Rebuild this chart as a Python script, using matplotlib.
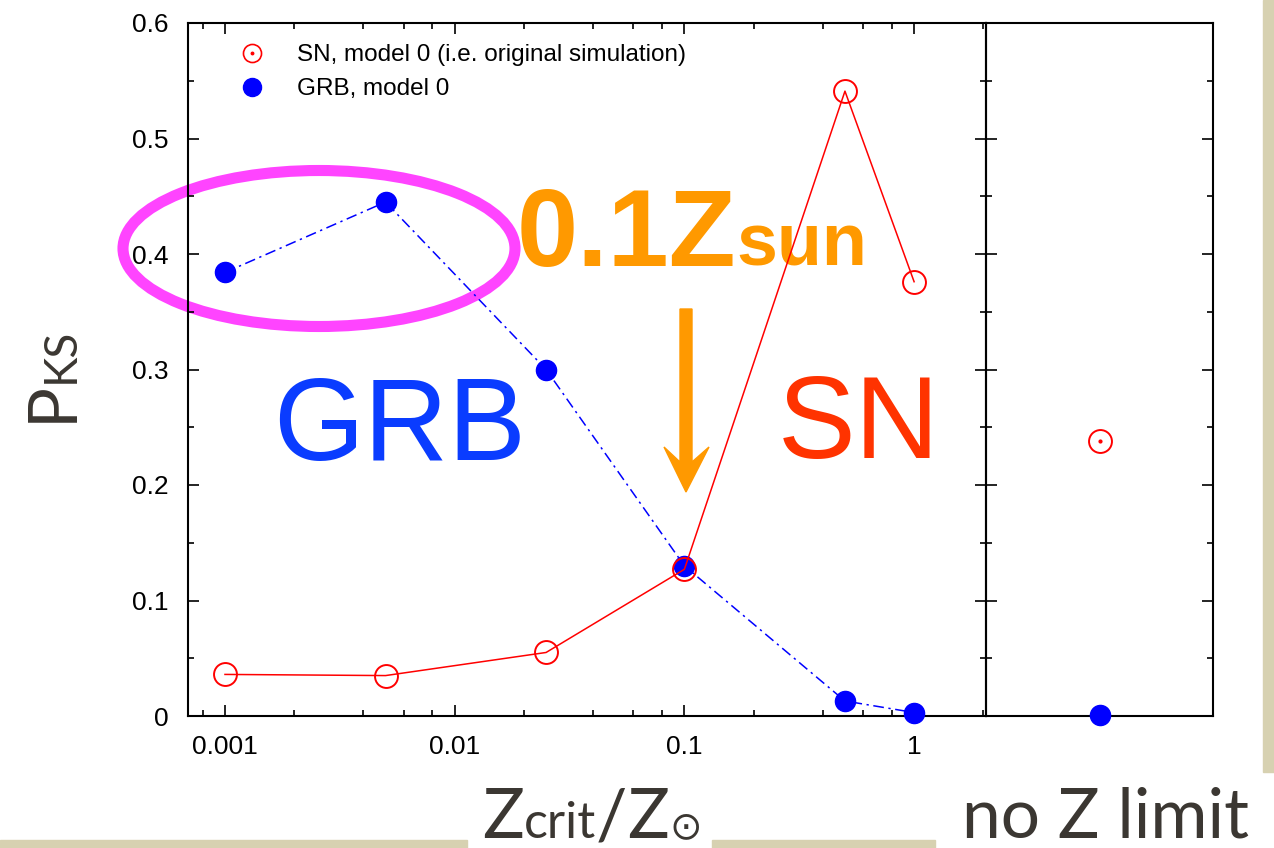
import matplotlib
matplotlib.use("Agg")
import matplotlib.pyplot as plt
from matplotlib.lines import Line2D
from matplotlib.patches import Ellipse, Polygon, Rectangle
from matplotlib.legend_handler import HandlerTuple
from matplotlib.ticker import FixedLocator, MultipleLocator, NullFormatter, NullLocator

plt.rcParams['font.family'] = ['Liberation Sans', 'DejaVu Sans']

# ---- data -------------------------------------------------------------
z_crit = [0.001, 0.005, 0.025, 0.1, 0.5, 1.0]
p_ks_sn = [0.036, 0.035, 0.055, 0.127, 0.541, 0.376]
p_ks_grb = [0.384, 0.445, 0.300, 0.130, 0.013, 0.003]
p_ks_sn_nolimit = [0.238]
p_ks_grb_nolimit = [0.001]
x_ticks = [0.001, 0.01, 0.1, 1]
x_ticklabels = ['0.001', '0.01', '0.1', '1']
y_ticks = [0, 0.1, 0.2, 0.3, 0.4, 0.5, 0.6]
y_ticklabels = ['0', '0.1', '0.2', '0.3', '0.4', '0.5', '0.6']
legend_labels = ['SN, model 0 (i.e. original simulation)', 'GRB, model 0']

W, H = 1274, 848
fig = plt.figure(figsize=(W / 100, H / 100), dpi=100)


def fx(px):
    return px / W


def fy(py):
    return 1 - py / H


# slide background strips
beige = '#d7d1b1'
for (x0, y0, x1, y1) in [(0, 840, 467, 848), (712, 840, 935, 848), (1263, 0, 1274, 772)]:
    fig.patches.append(Rectangle((fx(x0), fy(y1)), fx(x1) - fx(x0), fy(y0) - fy(y1),
                                 transform=fig.transFigure, color=beige, zorder=-3))

ax = fig.add_axes([fx(188), fy(716), fx(986) - fx(188), fy(23) - fy(716)])
axr = fig.add_axes([fx(986), fy(716), fx(1213) - fx(986), fy(23) - fy(716)])
for a in (ax, axr):
    a.set_facecolor('none')
    for s in a.spines.values():
        s.set_linewidth(1.5)
    a.set_ylim(0, 0.6)
    a.yaxis.set_major_locator(FixedLocator(y_ticks))
    a.yaxis.set_minor_locator(MultipleLocator(0.05))

# main panel (log x)
ax.set_xscale('log')
ax.set_xlim(10 ** -3.161, 10 ** 0.313)
ax.xaxis.set_major_locator(FixedLocator(x_ticks))
minor = [m * 10.0 ** e for e in (-4, -3, -2, -1, 0) for m in (2, 4, 6, 8)]
ax.xaxis.set_minor_locator(FixedLocator(minor))
ax.xaxis.set_minor_formatter(NullFormatter())
ax.set_xticklabels(x_ticklabels)
ax.set_yticklabels(y_ticklabels)
ax.tick_params(which='both', direction='in', top=True, right=True, width=1.2,
               labelsize=19, colors='black')
ax.tick_params(which='major', length=8)
ax.tick_params(which='minor', length=4.5)
ax.tick_params(axis='x', pad=14)
ax.tick_params(axis='y', pad=14)

ax.plot(z_crit, p_ks_grb, color='#0000ff', lw=1.1, linestyle=(0, (7, 3, 1.5, 3)),
        marker='o', ms=14.5, mfc='#0000ff', mec='#0000ff', clip_on=False, zorder=3)
ax.plot(z_crit, p_ks_sn, color='#ff0000', lw=1.1, marker='o', ms=16.5,
        mfc='none', mec='#ff0000', mew=1.4, clip_on=False, zorder=4)

# "no limit" panel
axr.set_xlim(-1, 1)
axr.xaxis.set_major_locator(NullLocator())
axr.xaxis.set_minor_locator(NullLocator())
axr.yaxis.set_major_formatter(NullFormatter())
axr.tick_params(which='both', direction='in', left=True, right=True, width=1.2)
axr.tick_params(which='major', length=8)
axr.tick_params(which='minor', length=4.5)
axr.plot([0], p_ks_grb_nolimit, linestyle='none', marker='o', ms=14.5,
         color='#0000ff', clip_on=False, zorder=3)
axr.plot([0], p_ks_sn_nolimit, linestyle='none', marker='o', ms=16.5,
         mfc='none', mec='#ff0000', mew=1.4, clip_on=False, zorder=4)
axr.plot([0], p_ks_sn_nolimit, linestyle='none', marker='o', ms=2,
         color='#ff0000', clip_on=False, zorder=4)

# legend
h_sn = (Line2D([], [], linestyle='none', marker='o', ms=13, mfc='none', mec='#ff0000', mew=1.2),
        Line2D([], [], linestyle='none', marker='o', ms=1.8, color='#ff0000'))
h_grb = Line2D([], [], linestyle='none', marker='o', ms=13, color='#0000ff')
ax.legend([h_sn, h_grb], legend_labels, loc='upper left',
          bbox_to_anchor=(fx(234), fy(44)), bbox_transform=fig.transFigure,
          frameon=False, fontsize=17.5, handlelength=1.5, handletextpad=1.1,
          labelspacing=0.5, borderpad=0, borderaxespad=0,
          handler_map={tuple: HandlerTuple(ndivide=1, pad=0)})

# annotations on the slide
fig.patches.append(Ellipse((fx(319), fy(248.5)), fx(392), 156 / H, transform=fig.transFigure,
                           fill=False, edgecolor='#ff44ff', lw=8, zorder=-1))
arrow_px = [(680, 309), (692, 309), (692, 462), (709, 447), (686, 492), (664, 447), (680, 462)]
fig.patches.append(Polygon([(fx(x), fy(y)) for x, y in arrow_px], closed=True,
                           transform=fig.transFigure, color='#ff9900', zorder=-1))

renderer = fig.canvas.get_renderer()


def text_run(x_px, y_px, pieces, color, **kw):
    """Draw text pieces one after another along a common baseline."""
    x = x_px
    for s, size, extra in pieces:
        opts = dict(kw)
        opts.update(extra)
        t = fig.text(fx(x), fy(y_px), s, fontsize=size, color=color, ha='left',
                     va='baseline', zorder=-1, **opts)
        x += t.get_window_extent(renderer).width


fig.text(fx(273), fy(460), 'GRB', fontsize=84, color='#0a3cff', ha='left', va='baseline', zorder=-1)
fig.text(fx(778), fy(458), 'SN', fontsize=84, color='#ff3300', ha='left', va='baseline', zorder=-1)
text_run(517, 266, [('0.1Z', 79, {}), ('sun', 53, {})], '#ff9900', fontweight='bold')

slide = '#3b3732'
lato = ['Lato', 'DejaVu Sans']
# x label and the "no limit" caption
text_run(482, 838, [('Z', 50, {}), ('crit', 36, {}), ('/', 50, {}), ('Z', 50, {}),
                    ('\u2299', 28, {'family': ['DejaVu Sans']})], slide, family=lato)
fig.text(fx(962), fy(838), 'no Z limit', fontsize=50, color=slide, family=lato,
         ha='left', va='baseline', zorder=-1)
# y label
fig.text(fx(72), fy(422), 'P', fontsize=49, color=slide, family=lato, rotation=90,
         rotation_mode='anchor', ha='left', va='baseline', zorder=-1)
fig.text(fx(74), fy(383), 'KS', fontsize=33, color=slide, family=lato, rotation=90,
         rotation_mode='anchor', ha='left', va='baseline', zorder=-1)

fig.savefig('out.png', dpi=100)
